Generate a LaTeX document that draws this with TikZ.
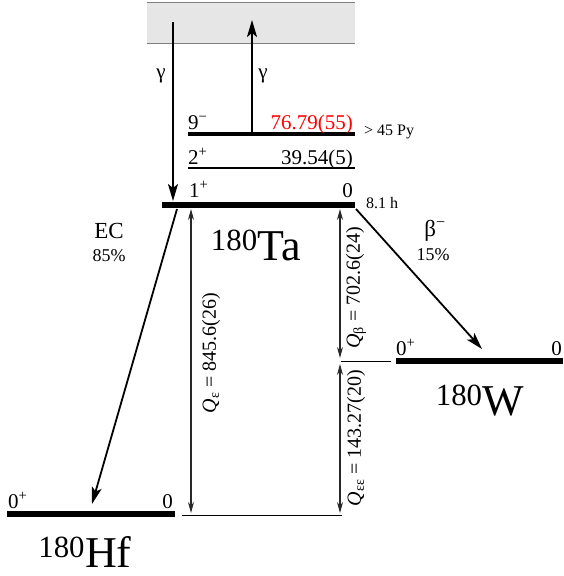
\documentclass[tikz,border=0pt]{standalone}
\usepackage{fontspec}
\setmainfont{Liberation Serif}
\usepackage{xcolor}
\usetikzlibrary{arrows.meta}
\definecolor{contgray}{RGB}{230,230,230}
\definecolor{qgray}{RGB}{40,40,40}

\begin{document}
\begin{tikzpicture}[x=1pt,y=-1pt,
  decay/.style={-{Stealth[length=17pt,width=10pt,inset=4pt]},line width=1.8pt},
  qarrow/.style={{Stealth[length=11pt,width=6pt]}-{Stealth[length=11pt,width=6pt]},line width=1.1pt,qgray},
  level/.style={line width=#1},
  lab/.style={inner sep=0pt,font=\fontsize{21}{25}\selectfont},
  small/.style={inner sep=0pt,font=\fontsize{16}{19}\selectfont},
  nucl/.style={inner sep=0pt,text depth=0pt,font=\fontsize{44}{50}\selectfont}]
\useasboundingbox(0,0)rectangle(563,576);
% continuum
\fill[contgray](147,2)rectangle(355,43);
\draw[gray](147,2)--(355,2) (147,43)--(355,43);
% levels
\coordinate(m9l)at(188,134);\coordinate(m9r)at(355,134);
\coordinate(l2l)at(188,168);\coordinate(l2r)at(355,168);
\coordinate(tal)at(162,205);\coordinate(tar)at(355,205);
\coordinate(wl)at(396,361);\coordinate(wr)at(563,361);
\coordinate(hfl)at(7,514);\coordinate(hfr)at(175,514);
\draw[level=3.5pt](m9l)--(m9r);
\draw[level=1.2pt](l2l)--(l2r);
\draw[level=6pt](tal)--(tar);
\draw[level=6pt](wl)--(wr);
\draw[level=6pt](hfl)--(hfr);
\draw[level=1pt](341,361)--(391,361);
\draw[level=1pt](182,515)--(342,515);
\node[lab,anchor=base west](jm9)at(188,129){9\textsuperscript{−}};
\node[lab,anchor=base east,red](em9)at(353,129){76.79(55)};
\node[small,anchor=west](thalf9)at(364,132){> 45 Py};
\node[lab,anchor=base west](j2)at(188,164){2\textsuperscript{+}};
\node[lab,anchor=base east](e2)at(353,164){39.54(5)};
\node[lab,anchor=base west](j1)at(189,197){1\textsuperscript{+}};
\node[lab,anchor=base east](e1)at(353,197){0};
\node[small,anchor=west](thalfta)at(366,203){8.1 h};
\node[lab,anchor=base west](jw)at(396,355){0\textsuperscript{+}};
\node[lab,anchor=base east](ew)at(562,355){0};
\node[lab,anchor=base west](jhf)at(8,508){0\textsuperscript{+}};
\node[lab,anchor=base east](ehf)at(173,508){0};
\node[nucl,anchor=base](ta)at(256,260){\textsuperscript{180}Ta};
\node[nucl,anchor=base](w)at(480,415){\textsuperscript{180}W};
\node[nucl,anchor=base](hf)at(85,567){\textsuperscript{180}Hf};
% gamma transitions
\coordinate(gdtop)at(173,22);\coordinate(gdbot)at(173,201);
\coordinate(gutop)at(252,20);\coordinate(gubot)at(252,133);
\draw[decay](gdtop)--(gdbot);
\draw[decay](gubot)--(gutop);
\node[lab](gd)at(161,76){γ};
\node[lab](gu)at(263,76){γ};
% decays
\coordinate(ecs)at(177,209);\coordinate(ece)at(92,504);
\coordinate(bms)at(356,209);\coordinate(bme)at(482,349);
\draw[decay](ecs)--(ece);
\draw[decay](bms)--(bme);
\node[inner sep=0pt,font=\fontsize{23}{27}\selectfont](ec)at(109,231){EC};
\node[inner sep=0pt,font=\fontsize{18}{21}\selectfont](ecbr)at(109,256){85\%};
\node[inner sep=0pt,font=\fontsize{23}{27}\selectfont](bm)at(435,231){β\textsuperscript{−}};
\node[inner sep=0pt,font=\fontsize{18}{21}\selectfont](bmbr)at(433,255){15\%};
% Q values
\coordinate(qet)at(191,209);\coordinate(qeb)at(191,513);
\coordinate(qbt)at(340,209);\coordinate(qbb)at(340,358);
\coordinate(qeet)at(340,364);\coordinate(qeeb)at(340,513);
\draw[qarrow](qet)--(qeb);
\draw[qarrow](qbt)--(qbb);
\draw[qarrow](qeet)--(qeeb);
\node[lab,rotate=90,font=\fontsize{20}{24}\selectfont](qe)at(211,353){\textit{Q}\textsubscript{ε} = 845.6(26)};
\node[lab,rotate=90,font=\fontsize{20}{24}\selectfont](qb)at(356,288){\textit{Q}\textsubscript{β} = 702.6(24)};
\node[lab,rotate=90,font=\fontsize{20}{24}\selectfont](qee)at(356,438){\textit{Q}\textsubscript{εε} = 143.27(20)};
\end{tikzpicture}
\end{document}
